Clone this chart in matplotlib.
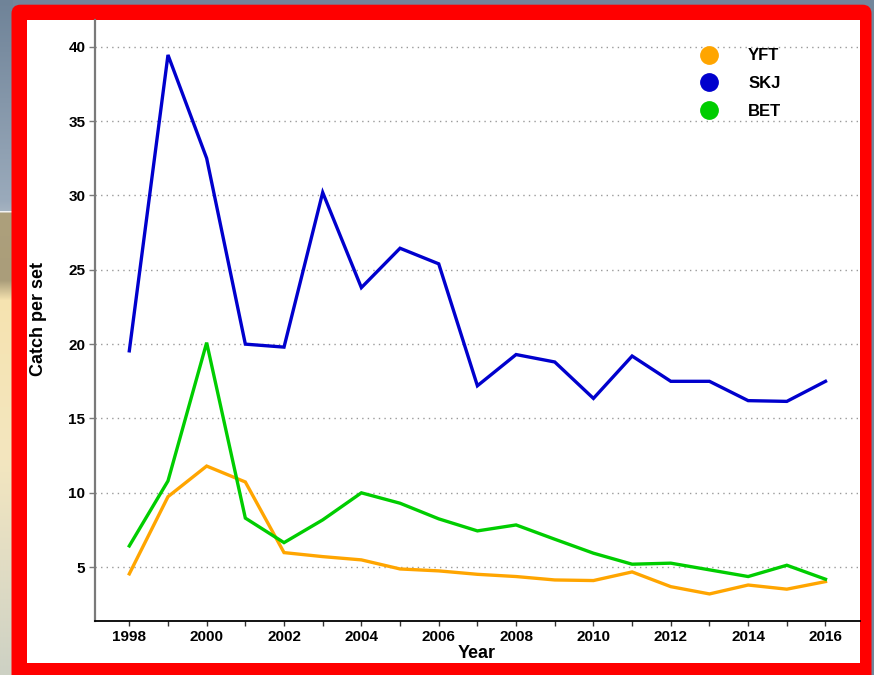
import numpy as np
import matplotlib
matplotlib.use("Agg")
import matplotlib.pyplot as plt
from matplotlib.patches import FancyBboxPatch, Rectangle
from matplotlib.lines import Line2D
from matplotlib.colors import to_rgb

plt.rcParams['font.family'] = ['Liberation Sans', 'DejaVu Sans']

# Catch per set by year and species
years = list(range(1998, 2017))
yft = [4.55, 9.74, 11.8, 10.73, 5.98, 5.71, 5.49, 4.88, 4.75, 4.52,
       4.37, 4.14, 4.10, 4.68, 3.69, 3.20, 3.80, 3.52, 4.03]
skj = [19.55, 39.45, 32.5, 20.0, 19.8, 30.2, 23.8, 26.45, 25.4, 17.2,
       19.3, 18.8, 16.35, 19.2, 17.5, 17.5, 16.2, 16.15, 17.5]
bet = [6.43, 10.8, 20.1, 8.3, 6.65, 8.18, 10.0, 9.3, 8.25, 7.44,
       7.84, 6.88, 5.94, 5.2, 5.27, 4.82, 4.37, 5.13, 4.19]

species = ["YFT", "SKJ", "BET"]
series = [yft, skj, bet]
colors = ["#FFA500", "#0000CD", "#00CD00"]

y_ticks = [5, 10, 15, 20, 25, 30, 35, 40]
x_ticks = list(range(1998, 2017, 2))

W, H = 874, 675
fig = plt.figure(figsize=(W / 100, H / 100), dpi=100)
fig.patch.set_facecolor("#72869b")

# Slide backdrop and red frame, drawn in pixel space
bg = fig.add_axes([0, 0, 1, 1], zorder=-10)
bg.set_xlim(0, W)
bg.set_ylim(H, 0)
bg.axis("off")

stops = [(0, "#6f8398"), (200, "#9aaabb"), (210, "#a4b2c0"), (211, "#f4f4f4"),
         (213, "#ada07c"), (280, "#aa9d7a"), (300, "#f6e3b0"), (460, "#f3e6bf"),
         (560, "#e2ddc4"), (675, "#cdd1c4")]
ys = np.arange(H)
sy = [s[0] for s in stops]
cols = np.array([to_rgb(s[1]) for s in stops])
grad = np.stack([np.interp(ys, sy, cols[:, k]) for k in range(3)], axis=1)
img = np.repeat(grad[:, None, :], 2, axis=1)
bg.imshow(img, extent=[0, 13, H, 0], aspect="auto", interpolation="bilinear")

frame = FancyBboxPatch((11.5, 4.7), 860, 690,
                       boxstyle="round,pad=0,rounding_size=9",
                       facecolor="#FF0000", edgecolor="none")
bg.add_patch(frame)
bg.add_patch(Rectangle((27, 20), 860 - 27, 663 - 20, facecolor="white",
                       edgecolor="none"))

# Main chart
ax = fig.add_axes([95 / W, 1 - 620.7 / H, (860 - 95) / W, (620.7 - 20) / H])
ax.set_facecolor("white")
for name, vals, c in zip(species, series, colors):
    ax.plot(years, vals, color=c, linewidth=2.4, solid_joinstyle="miter")

ax.set_xlim(1997.113, 2016.892)
ax.set_ylim(1.40, 41.8)

ax.set_yticks(y_ticks)
ax.set_xticks(x_ticks)
ax.set_xticks(years, minor=True)
ax.yaxis.grid(True, color="#9a9a9a", linestyle=(0, (1, 3)), linewidth=1.0)
ax.xaxis.grid(False)
ax.set_axisbelow(True)

for s in ["top", "right"]:
    ax.spines[s].set_visible(False)
ax.spines["left"].set_color("#7a7a7a")
ax.spines["left"].set_linewidth(1.6)
ax.spines["bottom"].set_color("black")
ax.spines["bottom"].set_linewidth(1.3)

ax.tick_params(axis="y", length=4, width=1, color="#7a7a7a", pad=3,
               labelsize=11, labelcolor="black")
ax.tick_params(axis="x", which="both", length=3.5, width=1, color="#333333",
               pad=3, labelsize=11, labelcolor="black")
for lab in ax.get_xticklabels() + ax.get_yticklabels():
    lab.set_fontweight("bold")

fig.text(38.5 / W, 1 - 319 / H, "Catch per set", rotation=90, ha="center",
         va="center", fontsize=13, fontweight="bold")
fig.text(477 / W, 1 - 654 / H, "Year", ha="center", va="center",
         fontsize=13, fontweight="bold")

handles = [Line2D([], [], linestyle="none", marker="o", markersize=12.5,
                  markerfacecolor=c, markeredgecolor=c) for c in colors]
leg = ax.legend(handles, species, loc="upper left",
                bbox_to_anchor=(0.7918, 0.9526), frameon=False,
                borderaxespad=0, borderpad=0, handlelength=1.0,
                handletextpad=1.84, labelspacing=0.76,
                prop={"size": 12, "weight": "bold"})

fig.savefig("out.png", dpi=100, facecolor=fig.get_facecolor())
